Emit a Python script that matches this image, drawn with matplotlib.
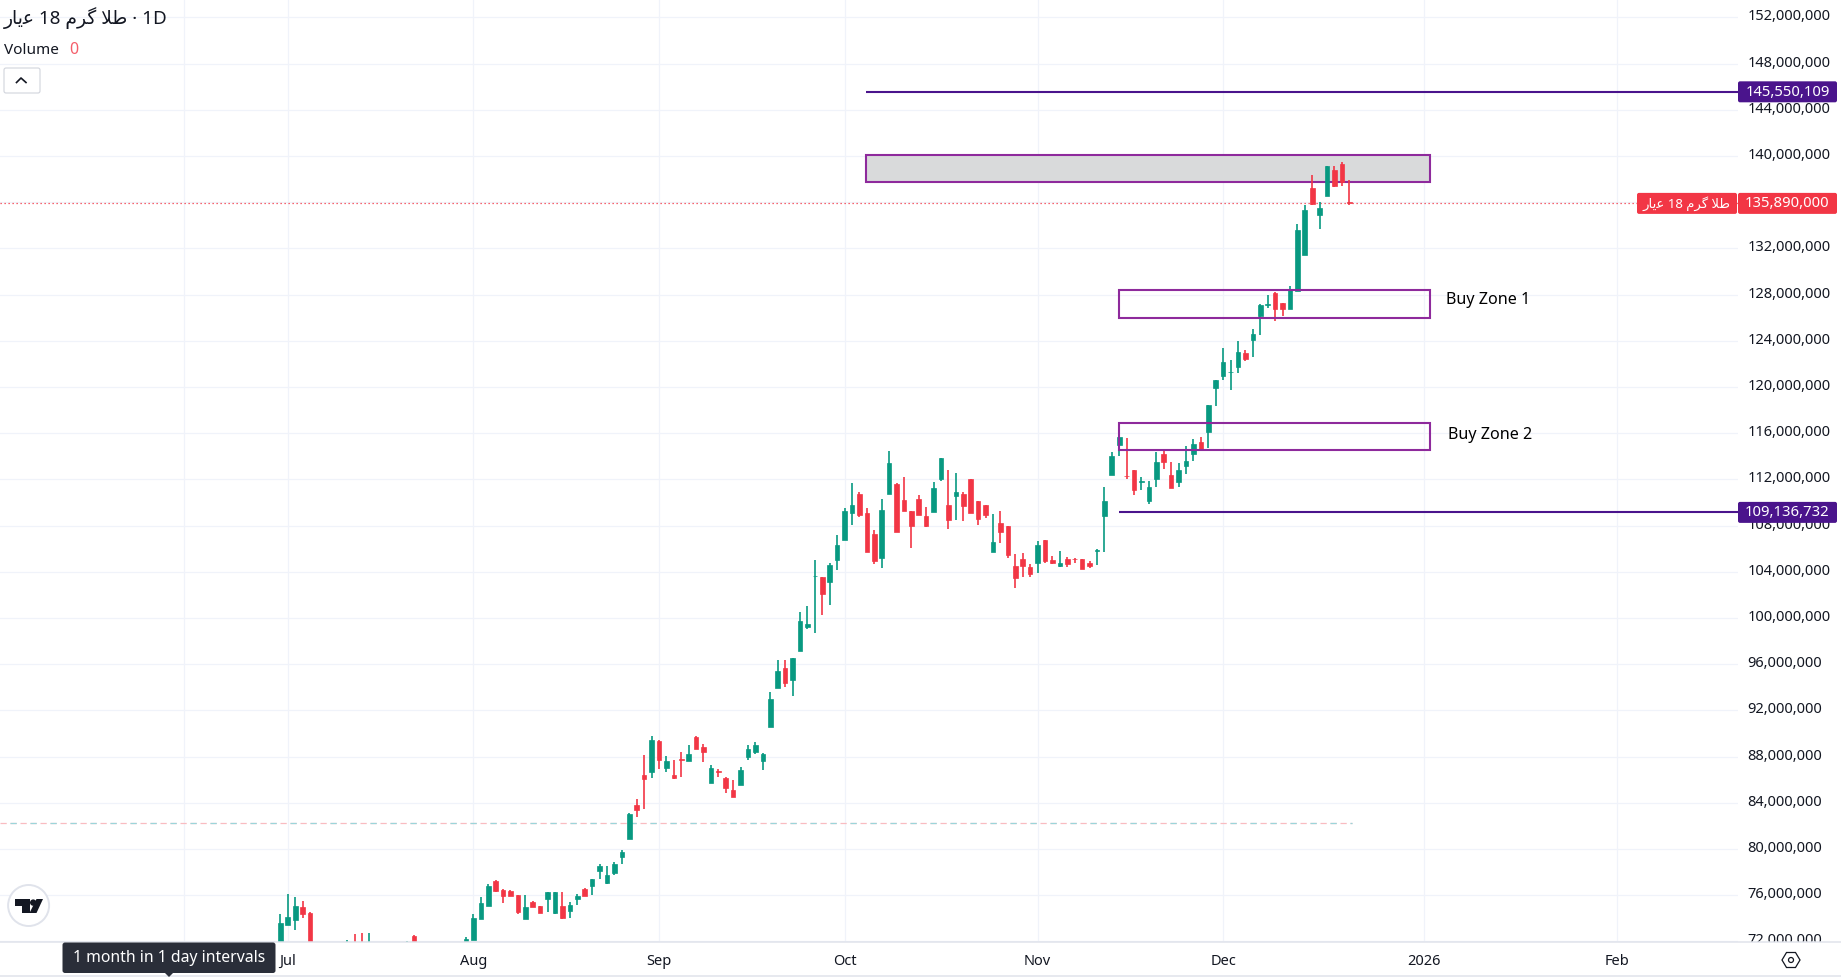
#!/usr/bin/env python3
import matplotlib
matplotlib.use('Agg')
import matplotlib.pyplot as plt
from matplotlib.patches import Circle, FancyBboxPatch, Polygon, Rectangle
from matplotlib.transforms import Bbox, ScaledTranslation

plt.rcParams['font.family'] = ['Noto Sans', 'DejaVu Sans']

# -----------------------------
# Data (prices in millions, bars counted from the first visible candle)
# -----------------------------
bar_idx = [0, 1, 2, 3, 4, 9, 10, 11, 12, 17, 18] + list(range(25, 145))

opens = [71.50, 73.41, 73.85, 74.97, 74.45, 71.40, 71.80, 71.80, 71.20, 71.30, 72.46,
         71.80, 72.11, 73.93, 75.05, 77.22, 76.44, 76.35, 76.01, 73.93, 75.40,
         75.05, 75.66, 74.45, 75.05, 74.62, 75.66, 76.53, 76.79, 78.08, 77.05,
         77.91, 79.30, 80.86, 83.80, 86.40, 86.66, 89.34, 87.00, 86.40, 87.78,
         87.61, 89.69, 88.82, 85.70, 86.74, 86.14, 85.10, 85.53, 87.96, 88.39,
         87.61, 90.55, 93.92, 95.66, 94.62, 97.13, 99.21, 103.60, 103.54, 103.11,
         105.01, 106.75, 109.09, 110.73, 109.09, 107.27, 105.19, 110.73, 111.59, 110.21,
         109.26, 110.30, 108.82, 109.17, 112.03, 109.78, 110.56, 110.73, 112.03, 110.12,
         109.78, 105.71, 108.22, 107.96, 104.50, 105.10, 104.41, 104.75, 106.75, 105.01,
         104.50, 105.10, 105.13, 105.10, 104.75, 105.79, 108.82, 112.37, 114.97, 112.32,
         112.81, 111.75, 110.13, 112.03, 114.19, 112.38, 111.77, 113.16, 114.19, 115.23,
         116.10, 119.91, 120.95, 121.27, 121.73, 122.94, 124.06, 126.14, 127.12, 128.13,
         127.27, 126.75, 128.31, 131.42, 137.22, 134.89, 136.53, 138.78, 139.30, 135.98]

highs = [74.36, 76.10, 75.84, 75.49, 74.50, 72.11, 72.63, 72.72, 72.72, 72.03, 72.55,
         72.40, 74.34, 75.83, 76.96, 77.31, 76.55, 76.44, 76.01, 76.01, 75.49,
         75.05, 76.27, 76.27, 76.27, 75.40, 76.09, 76.61, 77.39, 78.69, 78.52,
         78.86, 79.90, 83.10, 84.32, 88.13, 89.77, 89.43, 88.04, 87.70, 88.39,
         88.99, 89.77, 89.08, 87.26, 86.92, 86.22, 85.96, 87.09, 88.99, 89.25,
         88.30, 93.58, 96.35, 96.35, 96.52, 100.51, 101.03, 105.01, 103.54, 104.75,
         107.18, 109.52, 111.68, 110.90, 109.52, 107.61, 110.30, 114.45, 111.70, 112.20,
         109.26, 110.64, 109.60, 111.77, 113.85, 112.81, 112.55, 110.90, 112.03, 110.12,
         109.78, 109.00, 109.26, 107.96, 105.53, 105.62, 104.67, 106.66, 106.75, 105.36,
         105.79, 105.27, 105.19, 105.10, 104.93, 105.97, 111.34, 114.37, 116.00, 115.58,
         112.81, 112.20, 111.86, 114.37, 114.60, 113.50, 113.42, 114.89, 115.49, 115.67,
         118.44, 120.60, 123.37, 122.33, 123.98, 123.20, 125.02, 127.20, 127.96, 128.20,
         127.27, 128.74, 134.11, 135.75, 138.35, 136.00, 139.13, 139.13, 139.48, 137.92]

lows = [71.00, 73.41, 72.98, 74.02, 71.00, 71.00, 71.00, 71.00, 71.00, 71.00, 71.00,
        71.50, 72.11, 73.93, 75.05, 76.30, 75.31, 75.92, 74.36, 73.93, 74.97,
        74.45, 74.54, 74.36, 73.93, 74.02, 75.14, 75.92, 76.01, 77.39, 76.96,
        77.74, 78.69, 80.86, 82.76, 83.45, 86.14, 86.92, 86.66, 86.05, 86.22,
        87.61, 88.65, 87.52, 85.70, 86.22, 84.84, 84.49, 85.53, 87.70, 88.21,
        86.83, 90.55, 93.92, 94.01, 93.23, 97.13, 99.03, 98.69, 100.25, 101.12,
        104.15, 106.75, 108.04, 108.74, 105.71, 104.67, 104.32, 110.73, 107.44, 109.26,
        106.05, 108.91, 107.87, 109.17, 111.85, 107.70, 108.48, 108.39, 109.08, 108.04,
        108.65, 105.71, 106.49, 105.19, 102.59, 103.54, 103.54, 103.89, 104.75, 104.67,
        104.41, 104.41, 104.75, 104.24, 104.32, 104.58, 105.71, 112.37, 114.02, 112.03,
        110.65, 111.08, 109.87, 111.34, 112.90, 111.25, 111.34, 112.46, 113.59, 114.60,
        114.71, 118.35, 120.60, 119.73, 121.21, 122.25, 122.59, 124.50, 126.83, 125.71,
        126.14, 126.75, 128.31, 131.42, 135.75, 133.67, 136.53, 137.31, 137.40, 135.75]

closes = [73.56, 74.10, 75.06, 74.36, 71.50, 71.70, 71.30, 71.40, 71.80, 71.80, 71.50,
          72.17, 74.02, 75.31, 76.79, 76.35, 75.92, 75.92, 74.54, 74.97, 74.97,
          74.45, 76.27, 76.27, 74.02, 75.14, 75.92, 75.92, 77.39, 78.52, 77.74,
          78.69, 79.73, 83.02, 83.37, 86.05, 89.43, 87.70, 87.61, 86.14, 87.72,
          88.21, 88.65, 88.39, 87.00, 86.70, 85.27, 84.49, 86.83, 88.65, 88.99,
          88.21, 92.97, 95.40, 94.36, 96.52, 99.73, 99.47, 103.64, 102.06, 104.58,
          106.31, 109.26, 109.78, 108.91, 105.71, 104.93, 109.34, 113.41, 107.44, 109.26,
          107.96, 108.91, 107.96, 111.25, 113.85, 108.48, 110.90, 109.69, 109.08, 108.56,
          108.91, 106.57, 107.44, 105.45, 103.46, 104.50, 103.80, 106.31, 104.93, 104.75,
          104.75, 104.67, 105.07, 104.24, 104.50, 105.85, 110.12, 114.02, 115.67, 112.27,
          111.08, 111.84, 111.34, 113.50, 113.50, 111.25, 112.81, 113.59, 115.06, 114.60,
          118.44, 120.60, 122.16, 121.32, 123.03, 122.42, 124.58, 127.09, 127.17, 126.75,
          126.75, 128.39, 133.59, 135.32, 135.84, 135.49, 139.13, 137.40, 137.74, 135.89]

month_bars = [-13, 1, 26, 51, 76, 102, 127, 154, 180]
month_labels = ['', 'Jul', 'Aug', 'Sep', 'Oct', 'Nov', 'Dec', '2026', 'Feb']
price_ticks = list(range(72, 153, 4))

last_price = 135.89
target_high = 145.550109
target_low = 109.136732
mid_line = 82.22

# zones: first bar, last bar, bottom, top
sell_zone = (78.85, 154.9, 137.74, 140.10)
buy_zone_1 = (113, 154.9, 125.99, 128.39)
buy_zone_2 = (113, 154.9, 114.53, 116.87)

# Persian name in presentation forms, visual order (matplotlib does no shaping)
symbol_name = '\uFEAD\uFE8E\uFBFE\uFECB 18 \uFEE1\uFEAE\uFB94 \uFEFC\uFEC3'

GREEN = '#089981'
RED = '#F23645'
ZONE = '#8E2A9C'
LEVEL = '#4A148C'
GRID = '#F0F3FA'
TEXT = '#131722'
BORDER = '#E0E3EB'

# -----------------------------
# Figure and axes
# -----------------------------
W, H = 1841, 977
fig = plt.figure(figsize=(W / 100, H / 100), dpi=100, facecolor='white')
ax = fig.add_axes([0, (H - 942) / H, 1738 / W, 942 / H])
ax.set_xlim(-37.77, 196.36)
ax.set_ylim(71.94, 153.5)
for s in ax.spines.values():
    s.set_visible(False)

ax.set_axisbelow(True)
ax.grid(True, color=GRID, linewidth=0.9)
ax.set_xticks(month_bars)
ax.set_xticklabels(month_labels, fontsize=10.5, color=TEXT)
ax.get_xticklabels()[month_labels.index('2026')].set_fontweight('bold')
ax.set_yticks(price_ticks)
ax.set_yticklabels([f"{v * 1000000:,}" for v in price_ticks], fontsize=10.5, color=TEXT)
ax.yaxis.tick_right()
ax.tick_params(axis='x', length=0, pad=8.8)
ax.tick_params(axis='y', length=0, pad=7)

# the lowest price label is cut by the time axis; labels sit a little above their line
label_clip = Bbox.from_extents(0, H - 942, W, H)
label_shift = ScaledTranslation(0, 2.4 / 100, fig.dpi_scale_trans)
for lab in ax.get_yticklabels():
    lab.set_transform(lab.get_transform() + label_shift)
    lab.set_clip_box(label_clip)
    lab.set_clip_on(True)

# -----------------------------
# Candles
# -----------------------------
colors = [GREEN if c >= o else RED for o, c in zip(opens, closes)]
ax.vlines(bar_idx, lows, highs, colors=colors, linewidth=1.2, zorder=3)
ax.bar(bar_idx, [abs(c - o) for o, c in zip(opens, closes)],
       bottom=[min(o, c) for o, c in zip(opens, closes)], width=0.62,
       color=colors, edgecolor=colors, linewidth=0.5, zorder=3)

# -----------------------------
# Drawings
# -----------------------------
ax.add_patch(Rectangle((sell_zone[0], sell_zone[2]), sell_zone[1] - sell_zone[0],
                       sell_zone[3] - sell_zone[2], facecolor='#D9DADB',
                       edgecolor=ZONE, linewidth=1.5, zorder=2))
for z in (buy_zone_1, buy_zone_2):
    ax.add_patch(Rectangle((z[0], z[2]), z[1] - z[0], z[3] - z[2], fill=False,
                           edgecolor=ZONE, linewidth=1.5, zorder=4))

ax.hlines(target_high, sell_zone[0], 197, color=LEVEL, linewidth=1.5, zorder=4)
ax.hlines(target_low, buy_zone_1[0], 197, color=LEVEL, linewidth=1.5, zorder=4)
ax.axhline(last_price, color=RED, linewidth=0.9, linestyle=(0, (1, 2.2)), zorder=2)
ax.plot([-37.77, 144.3], [mid_line, mid_line], color='#F9BCC1', linewidth=0.9,
        linestyle=(0, (5, 3)), zorder=2)
ax.plot([-37.77, 144.3], [mid_line, mid_line], color='#9AD6DA', linewidth=0.9,
        linestyle=(8, (5, 11)), zorder=2)

ax.text(157, 127.55, 'Buy Zone 1', fontsize=11.6, color='black', va='center', ha='left', zorder=5)
ax.text(157.3, 115.87, 'Buy Zone 2', fontsize=11.6, color='black', va='center', ha='left', zorder=5)

# -----------------------------
# Chrome, drawn on a pixel overlay
# -----------------------------
ui = fig.add_axes([0, 0, 1, 1], zorder=5)
ui.set_xlim(0, W)
ui.set_ylim(H, 0)
ui.axis('off')
ui.patch.set_alpha(0)


def price_y(p):
    """Pixel row of a price, for the labels on the price scale."""
    disp = ax.transData.transform((0, p))
    return ui.transData.inverted().transform(disp)[1]


def price_tag(x0, x1, p, text, color, fontsize=10.5):
    y = price_y(p)
    ui.add_patch(FancyBboxPatch((x0 + 2, y - 8.5), x1 - x0 - 4, 17,
                                boxstyle='round,pad=2', facecolor=color, edgecolor='none', zorder=6))
    ui.text((x0 + x1) / 2, y + 0.6, text, color='white', fontsize=fontsize,
            ha='center', va='center', zorder=7)


price_tag(1738, 1837, target_high, f"{target_high * 1e6:,.0f}", LEVEL, fontsize=10.7)
price_tag(1738, 1837, target_low, f"{target_low * 1e6:,.0f}", LEVEL, fontsize=10.7)
price_tag(1738, 1837, last_price, f"{last_price * 1e6:,.0f}", RED, fontsize=10.7)
price_tag(1637, 1737, last_price, symbol_name, RED, fontsize=9.5)

ui.plot([0, W], [942, 942], color=BORDER, linewidth=1.1, zorder=1)
ui.plot([0, W], [976, 976], color=BORDER, linewidth=1.1, zorder=1)

# legend block
ui.text(4, 18, symbol_name + ' \u00b7 1D', fontsize=13.5, color=TEXT, va='center', ha='left')
ui.text(4, 50, 'Volume', fontsize=11, color=TEXT, va='center', ha='left')
ui.text(69, 50, '0', fontsize=11.5, color=RED, alpha=0.8, va='center', ha='left')
ui.add_patch(FancyBboxPatch((6, 70), 32, 21, boxstyle='round,pad=2', facecolor='white',
                            edgecolor='#D1D4DC', linewidth=0.8))
ui.plot([16.5, 21, 26], [82.5, 78, 82.5], color=TEXT, linewidth=1.2)

# logo
ui.add_patch(Circle((28.6, 905.5), 20.5, facecolor='white', edgecolor=BORDER, linewidth=1.4))
ui.add_patch(Polygon([(15, 899), (30, 899), (30, 913), (22, 913), (22, 906), (15, 906)],
                     closed=True, facecolor=TEXT, edgecolor='none'))
ui.add_patch(Circle((33.2, 902.6), 3.2, facecolor=TEXT, edgecolor='none'))
ui.add_patch(Polygon([(36.5, 899), (43, 899), (36.5, 913), (29.5, 913)],
                     closed=True, facecolor=TEXT, edgecolor='none'))

# tooltip
ui.add_patch(FancyBboxPatch((65, 945), 208, 25.5, boxstyle='round,pad=2.5',
                            facecolor='#2A2E39', edgecolor='none', zorder=6))
ui.add_patch(Polygon([(164, 972), (174, 972), (169, 977)], closed=True,
                     facecolor='#2A2E39', edgecolor='none', zorder=6))
ui.text(169, 957.5, '1 month in 1 day intervals', color='white', fontsize=11.35,
        ha='center', va='center', zorder=7)

# settings hexagon
hx, hy = 1791, 960
ui.add_patch(Polygon([(hx - 9, hy), (hx - 4.5, hy - 7.5), (hx + 4.5, hy - 7.5), (hx + 9, hy),
                      (hx + 4.5, hy + 7.5), (hx - 4.5, hy + 7.5)],
                     closed=True, fill=False, edgecolor=TEXT, linewidth=0.9))
ui.add_patch(Circle((hx, hy), 2.5, fill=False, edgecolor=TEXT, linewidth=0.9))

fig.savefig('out.png', dpi=100, facecolor='white')
plt.close(fig)
